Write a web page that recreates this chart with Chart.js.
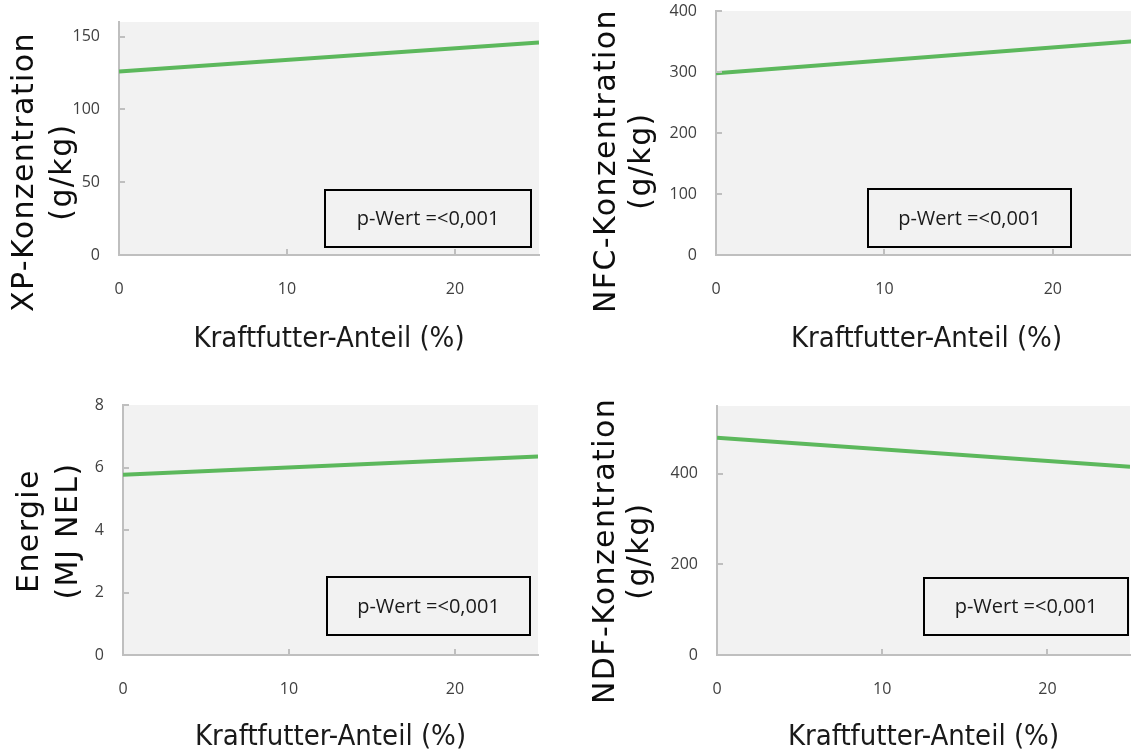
<!DOCTYPE html>
<html>
<head>
<meta charset="utf-8">
<script src="https://cdn.jsdelivr.net/npm/chart.js@4/dist/chart.umd.min.js"></script>
<style>
    html, body { margin: 0; padding: 0; background: #fff; overflow: hidden; }
    body { width: 1131px; height: 751px; position: relative; }
    canvas { position: absolute; }
</style>
</head>
<body>
<canvas id="xp-chart" width="560" height="357" style="left:0px;top:0px"></canvas>
<canvas id="nfc-chart" width="580" height="357" style="left:580px;top:0px"></canvas>
<canvas id="energy-chart" width="560" height="365" style="left:0px;top:390px"></canvas>
<canvas id="ndf-chart" width="560" height="365" style="left:580px;top:390px"></canvas>
<script>
// Kraftfutter-Anteil (%) - start and end of the regression line
const xValues = [0, 25];
const xTicks = [0, 10, 20];

// fitted concentrations
const xpValues = [126, 146];
const nfcValues = [298, 351];
const energyValues = [5.77, 6.35];
const ndfValues = [480, 416];

// y tick labels
const xpTicks = [0, 50, 100, 150];
const nfcTicks = [0, 100, 200, 300, 400];
const energyTicks = [0, 2, 4, 6, 8];
const ndfTicks = [0, 200, 400];

const xTitle = 'Kraftfutter-Anteil (%)';
const pText = 'p-Wert =<0,001';

const tickFont = { family: "'Open Sans', sans-serif", size: 16 };
const xTitleFont = { family: "'Liberation Sans Narrow', 'DejaVu Sans Condensed', sans-serif", size: 29 };

// grey plot background
const bgPlugin = {
    id: 'plotBg',
    beforeDraw(chart) {
        const {ctx, chartArea: a} = chart;
        ctx.save();
        ctx.fillStyle = '#f2f2f2';
        ctx.fillRect(a.left, a.top, a.right - a.left, a.bottom - a.top);
        ctx.restore();
    }
};

// short tick marks pointing into the plot
const tickMarks = {
    id: 'tickMarks',
    afterDraw(chart) {
        const {ctx, chartArea: a, scales: {x, y}} = chart;
        ctx.save();
        ctx.strokeStyle = '#bfbfbf';
        ctx.lineWidth = 2;
        ctx.beginPath();
        x.ticks.forEach(t => {
            if (t.value === 0) return;
            const px = Math.round(x.getPixelForValue(t.value));
            ctx.moveTo(px, a.bottom);
            ctx.lineTo(px, a.bottom - 6);
        });
        y.ticks.forEach(t => {
            if (t.value === 0) return;
            const py = Math.round(y.getPixelForValue(t.value));
            ctx.moveTo(a.left, py);
            ctx.lineTo(a.left + 6, py);
        });
        ctx.stroke();
        ctx.restore();
    }
};

// p-value box, placed in data units
const pBox = {
    id: 'pBox',
    afterDatasetsDraw(chart, args, opts) {
        const {ctx, scales: {x, y}} = chart;
        const l = Math.round(x.getPixelForValue(opts.x0));
        const r = Math.round(x.getPixelForValue(opts.x1));
        const t = Math.round(y.getPixelForValue(opts.y1));
        const b = Math.round(y.getPixelForValue(opts.y0));
        ctx.save();
        ctx.fillStyle = '#f2f2f2';
        ctx.fillRect(l, t, r - l, b - t);
        ctx.lineWidth = 2;
        ctx.strokeStyle = '#000';
        ctx.strokeRect(l, t, r - l, b - t);
        ctx.fillStyle = '#1a1a1a';
        ctx.font = "20px 'Open Sans', sans-serif";
        ctx.textAlign = 'center';
        ctx.textBaseline = 'middle';
        ctx.fillText(pText, (l + r) / 2, (t + b) / 2 + 1);
        ctx.restore();
    }
};

// rotated two-line y title
const yTitle = {
    id: 'yTitle',
    afterDraw(chart, args, opts) {
        const ctx = chart.ctx;
        ctx.save();
        ctx.fillStyle = '#0d0d0d';
        ctx.font = "30px 'DejaVu Sans', sans-serif";
        ctx.letterSpacing = '1.4px';
        ctx.textAlign = 'center';
        ctx.textBaseline = 'alphabetic';
        opts.lines.forEach((line, i) => {
            ctx.save();
            ctx.translate(opts.baselines[i], opts.cy);
            ctx.rotate(-Math.PI / 2);
            ctx.fillText(line, 0, 0);
            ctx.restore();
        });
        ctx.restore();
    }
};

function makePanel(canvasId, values, yTicks, yMax, p) {
    return new Chart(document.getElementById(canvasId), {
        type: 'line',
        data: {
            datasets: [{
                data: xValues.map((x, i) => ({x: x, y: values[i]})),
                borderColor: '#5cb85c',
                borderWidth: 4,
                pointRadius: 0,
                fill: false,
                tension: 0
            }]
        },
        options: {
            responsive: false,
            animation: false,
            layout: { padding: { top: p.top, right: p.right, left: 0, bottom: 0 } },
            plugins: {
                legend: { display: false },
                tooltip: { enabled: false },
                pBox: p.box,
                yTitle: p.title
            },
            scales: {
                x: {
                    type: 'linear',
                    min: 0,
                    max: 25,
                    afterBuildTicks: s => { s.ticks = xTicks.map(v => ({value: v})); },
                    afterFit: s => {
                        s.height = p.xHeight;
                        s.paddingLeft = 0;
                        s.paddingRight = 0;
                    },
                    grid: { display: false, drawTicks: false },
                    border: { display: true, color: '#bfbfbf', width: 2 },
                    ticks: { padding: 25, color: '#404040', font: tickFont, maxRotation: 0 },
                    title: { display: true, text: xTitle, color: '#1a1a1a', font: xTitleFont, padding: 0 }
                },
                y: {
                    type: 'linear',
                    min: 0,
                    max: yMax,
                    afterBuildTicks: s => { s.ticks = yTicks.map(v => ({value: v})); },
                    afterFit: s => {
                        s.width = p.yWidth;
                        s.paddingTop = 0;
                        s.paddingBottom = 0;
                    },
                    grid: { display: false, drawTicks: false },
                    border: { display: true, color: '#bfbfbf', width: 2 },
                    ticks: { padding: 19, color: '#404040', font: tickFont }
                }
            }
        },
        plugins: [bgPlugin, tickMarks, pBox, yTitle]
    });
}

makePanel('xp-chart', xpValues, xpTicks, 160, {
    top: 22, right: 21, yWidth: 119, xHeight: 102,
    box: { x0: 12.24, x1: 24.54, y0: 5.5, y1: 44.6 },
    title: { lines: ['XP-Konzentration', '(g/kg)'], baselines: [33, 71], cy: 172 }
});

makePanel('nfc-chart', nfcValues, nfcTicks, 400, {
    top: 11, right: 23, yWidth: 136, xHeight: 102,
    box: { x0: 9.02, x1: 21.06, y0: 13.2, y1: 107.6 },
    title: { lines: ['NFC-Konzentration', '(g/kg)'], baselines: [35, 70], cy: 161 }
});

makePanel('energy-chart', energyValues, energyTicks, 8, {
    top: 15, right: 22, yWidth: 123, xHeight: 100,
    box: { x0: 12.26, x1: 24.5, y0: 0.64, y1: 2.49 },
    title: { lines: ['Energie', '(MJ NEL)'], baselines: [38, 77], cy: 141 }
});

makePanel('ndf-chart', ndfValues, ndfTicks, 550, {
    top: 16, right: 10, yWidth: 137, xHeight: 100,
    box: { x0: 12.5, x1: 24.87, y0: 44, y1: 169 },
    title: { lines: ['NDF-Konzentration', '(g/kg)'], baselines: [34, 68], cy: 161 }
});
</script>
</body>
</html>
